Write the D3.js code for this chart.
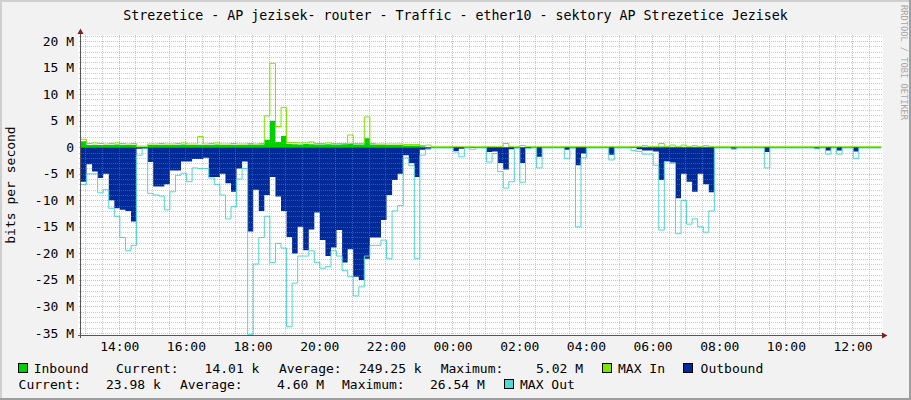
<!DOCTYPE html>
<html><head><meta charset="utf-8">
<script src="https://cdn.jsdelivr.net/npm/d3@7/dist/d3.min.js"></script>
<style>
body{margin:0;background:#f2f2f2;}
svg{display:block;}
text{font-family:"DejaVu Sans Mono",monospace;white-space:pre;}
</style>
</head><body>
<svg id="c" width="911" height="400"></svg>
<script>
// ---------- DATA ----------
const titleText = "Strezetice - AP jezisek- router - Traffic - ether10 - sektory AP Strezetice Jezisek";
const yAxisTitle = "bits per second";
const watermark = "RRDTOOL / TOBI OETIKER";
const startTime = new Date(2024, 0, 1, 12, 52);   // left edge of the graph
const stepMinutes = 10;                            // sample resolution
// values in Mbit/s, one per 10-minute sample
const inbound = [
 1.1,0.4,0.45,0.4,0.4,0.45,0.5,0.45,0.4,0.45,
 0.1,0.1,0.4,0.4,0.45,0.4,0.4,0.45,0.5,0.4,
 0.4,0.45,0.4,0.45,0.5,0.4,0.4,0.45,0.4,0.4,
 0.5,0.45,0.5,1.4,5.0,1.0,2.1,0.6,0.55,0.5,
 0.6,0.55,0.5,0.5,0.55,0.5,0.5,0.55,0.7,0.5,
 0.5,1.7,0.5,0.45,0.45,0.4,0.4,0.4,0.3,0.3,
 0.3,0.2,0.05,0.03,0.03,0.03,0.03,0.03,0.03,0.03,
 0.03,0.03,0.03,0.03,0.03,0.03,0.05,0.03,0.03,0.03,
 0.03,0.03,0.03,0.03,0.03,0.03,0.03,0.03,0.03,0.03,
 0.03,0.03,0.03,0.03,0.03,0.03,0.03,0.03,0.03,0.03,
 0.1,0.1,0.1,0.1,0.15,0.1,0.1,0.1,0.1,0.1,
 0.1,0.1,0.1,0.1,0.03,0.03,0.03,0.03,0.03,0.03,
 0.03,0.03,0.03,0.03,0.03,0.03,0.03,0.03,0.03,0.03,
 0.03,0.03,0.03,0.03,0.03,0.03,0.03,0.03,0.03,0.03,
 0.03,0.03,0.03,0.03
];
const maxIn = [
 1.5,0.7,0.8,0.7,0.6,0.7,0.8,0.7,0.6,0.7,
 0.2,0.2,0.6,0.6,0.7,0.6,0.6,0.7,0.8,0.6,
 0.6,2.0,0.6,0.7,0.8,0.6,0.6,0.7,0.6,0.6,
 0.7,0.6,0.7,5.9,15.8,3.9,7.5,0.9,0.9,0.8,
 0.8,1.0,0.7,0.7,0.8,0.7,0.7,0.7,2.3,0.7,
 0.7,5.7,0.7,0.6,0.6,0.6,0.6,0.6,0.5,0.5,
 0.5,0.3,0.4,0.1,0.1,0.1,0.1,0.1,0.1,0.1,
 0.1,0.1,0.1,0.1,0.1,0.1,0.7,0.1,0.1,0.3,
 0.1,0.1,0.1,0.1,0.1,0.1,0.1,0.1,0.1,0.1,
 0.1,0.1,0.1,0.1,0.1,0.1,0.1,0.1,0.1,0.1,
 0.1,0.3,0.1,0.1,0.7,0.1,0.4,0.1,0.4,0.1,
 0.3,0.1,0.3,0.1,0.1,0.1,0.1,0.1,0.1,0.1,
 0.1,0.1,0.1,0.1,0.1,0.1,0.1,0.1,0.1,0.1,
 0.1,0.1,0.1,0.1,0.1,0.1,0.1,0.1,0.1,0.1,
 0.1,0.1,0.1,0.1
];
const outbound = [
 6.5,3.2,4.6,5.8,5.0,10,11.5,11.8,12,14,
 0.3,0.3,2.8,7.4,7.4,7.0,4.4,4.4,2.7,2.7,
 2.2,2.2,2.0,5.6,5.6,5.0,6.8,8.4,4.0,2.7,
 15.9,8,12,9,5.6,9.3,12,16.9,20,15,
 19.4,15.5,12.3,17.5,20.5,18.9,15.6,21.7,19.2,24.4,
 25,21,17,17,13.7,9,6.2,5.0,1.5,3.0,
 5.6,0.5,0.3,0.1,0.1,0.1,0.1,0.7,0.3,0.1,
 0.1,0.1,0.1,0.9,0.8,3.0,4.2,0.4,0.1,3.0,
 0.2,0.1,1.8,0.1,0.1,0.1,0.1,0.5,0.1,3.4,
 1.2,0.1,0.1,0.1,0.1,1.4,0.1,0.1,0.1,0.1,
 0.4,0.6,0.6,0.8,6.2,2.7,2.9,9.6,5,6.5,
 8.4,5,7,8.5,0.1,0.1,0.1,0.3,0.1,0.1,
 0.1,0.1,0.1,0.9,0.1,0.1,0.1,0.1,0.1,0.1,
 0.1,0.1,0.3,0.1,0.6,0.1,0.6,0.1,0.1,0.8,
 0.1,0.1,0.1,0.1
];
const maxOut = [
 7,5,5,8.6,8,11.5,13,17,19.5,18.5,
 1.5,0.3,8.7,9,9.2,11.8,8.4,5.3,4.9,6.5,
 3.9,4,4,5.8,7,9,13.5,11.2,6,4,
 35.3,22,17,13,21.7,18.1,19,33.8,25.6,20.5,
 20.5,19.5,21.7,22.8,22.5,19.5,20.5,23.2,24.4,28,
 26.3,20.5,18.5,18.5,17.5,21,12,11,2,3.5,
 21,1.5,0.4,0.15,0.15,0.15,0.15,0.9,1.8,0.15,
 0.4,0.15,0.15,2.8,1.2,4.6,7.7,6.5,0.2,6.6,
 0.3,0.15,3.9,0.15,0.15,0.15,0.15,2.1,0.2,15,
 2,0.15,0.15,0.15,0.15,2.4,0.15,0.15,0.15,0.6,
 0.8,1.3,1.3,3.4,15.6,2.7,3.0,16.3,10,14.5,
 13.5,15,16,12,0.15,0.15,0.15,0.4,0.15,0.15,
 0.15,0.15,0.15,3.9,0.15,0.15,0.15,0.15,0.15,0.15,
 0.15,0.15,0.3,0.15,1.3,0.15,1.3,0.15,0.15,2.1,
 0.15,0.15,0.15,0.15
];
const yTickValues = [20,15,10,5,0,-5,-10,-15,-20,-25,-30,-35];
const yTickLabels = ["20 M","15 M","10 M","5 M","0","-5 M","-10 M","-15 M","-20 M","-25 M","-30 M","-35 M"];
const legendLine1 = [
  {box:"inbound"}, {t:"Inbound"}, {t:"Current:"}, {t:"14.01 k"}, {t:"Average:"}, {t:"249.25 k"},
  {t:"Maximum:"}, {t:"5.02 M"}, {box:"maxIn"}, {t:"MAX In"}, {box:"outbound"}, {t:"Outbound"}
];
const legendLine2 = [
  {t:"Current:"}, {t:"23.98 k"}, {t:"Average:"}, {t:"4.60 M"}, {t:"Maximum:"}, {t:"26.54 M"},
  {box:"maxOut"}, {t:"MAX Out"}
];

// ---------- STYLE / LAYOUT ----------
const colors = {inbound:"#00CF00", maxIn:"#7EE600", outbound:"#002A97", maxOut:"#55D6D3"};
const W = 911, H = 400;
const X0 = 81, X1 = 881, YTOP = 35, YBOT = 335;
const legendX1 = [18, 33.7, 116, 204.6, 279, 359, 440.7, 536, 601.7, 618, 683, 700.6];
const legendX2 = [18.6, 106, 180, 277, 342, 430, 503.5, 520];

const svg = d3.select("#c");
const endTime = new Date(startTime.getTime() + 24*3600*1000);
const x = d3.scaleTime().domain([startTime, endTime]).range([X0, X1]);
const M = 1e6;
const y = d3.scaleLinear().domain([-35.37*M, 21.13*M]).range([YBOT, YTOP]);

const n = outbound.length;
const times = d3.range(n + 1).map(i => new Date(startTime.getTime() + i*stepMinutes*60000));
function series(arr, sign) {
  const pts = arr.map((v, i) => ({t: times[i], v: sign*v*M}));
  pts.push({t: times[n], v: sign*arr[n-1]*M});
  return pts;
}

// background & frame
svg.append("rect").attr("width", W).attr("height", H).attr("fill", "#F2F2F2");
svg.append("rect").attr("x",0).attr("y",0).attr("width",W).attr("height",2).attr("fill","#CFCFCF");
svg.append("rect").attr("x",0).attr("y",0).attr("width",2).attr("height",H).attr("fill","#CFCFCF");
svg.append("rect").attr("x",W-2).attr("y",0).attr("width",2).attr("height",H).attr("fill","#9E9E9E");
svg.append("rect").attr("x",0).attr("y",H-2).attr("width",W).attr("height",2).attr("fill","#9E9E9E");

// canvas
svg.append("rect").attr("x", 78).attr("y", YTOP).attr("width", 883-78).attr("height", YBOT-YTOP+1).attr("fill", "#fff");

const plot = svg.append("g");
const area = d3.area().curve(d3.curveStepAfter).x(d => x(d.t)).y0(y(0)).y1(d => y(d.v));
const line = d3.line().curve(d3.curveStepAfter).x(d => x(d.t)).y(d => y(d.v));

plot.append("path").datum(series(inbound, 1)).attr("d", area).attr("fill", colors.inbound);
plot.append("path").datum(series(maxIn, 1)).attr("d", line).attr("fill", "none")
  .attr("stroke", colors.maxIn).attr("stroke-width", 1);
plot.append("path").datum(series(outbound, -1)).attr("d", area).attr("fill", colors.outbound);
plot.append("path").datum(series(maxOut, -1)).attr("d", line).attr("fill", "none")
  .attr("stroke", colors.maxOut).attr("stroke-width", 1);

// grid (drawn over data, like rrdtool)
const grid = svg.append("g").attr("shape-rendering", "crispEdges");
const minorY = d3.range(-35, 22, 1).filter(v => v % 5 !== 0);
grid.selectAll(".hmin").data(minorY).join("line")
  .attr("x1", 79).attr("x2", 883)
  .attr("y1", v => Math.round(y(v*M)) + 0.5).attr("y2", v => Math.round(y(v*M)) + 0.5)
  .attr("stroke", "rgba(143,143,143,0.45)").attr("stroke-dasharray", "1,1");
const minorX = d3.timeMinute.every(30).range(startTime, endTime).filter(t => !(t.getMinutes() === 0 && t.getHours() % 2 === 0));
grid.selectAll(".vmin").data(minorX).join("line")
  .attr("x1", t => Math.round(x(t)) + 0.5).attr("x2", t => Math.round(x(t)) + 0.5)
  .attr("y1", YTOP).attr("y2", YBOT)
  .attr("stroke", "rgba(143,143,143,0.45)").attr("stroke-dasharray", "1,1");
grid.selectAll(".hmaj").data(yTickValues).join("line")
  .attr("x1", 79).attr("x2", 883)
  .attr("y1", v => Math.round(y(v*M)) + 0.5).attr("y2", v => Math.round(y(v*M)) + 0.5)
  .attr("stroke", "rgba(222,79,79,0.45)").attr("stroke-dasharray", "1,1");
const majorX = d3.timeHour.every(2).range(startTime, endTime);
grid.selectAll(".vmaj").data(majorX).join("line")
  .attr("x1", t => Math.round(x(t)) + 0.5).attr("x2", t => Math.round(x(t)) + 0.5)
  .attr("y1", YTOP).attr("y2", YBOT)
  .attr("stroke", "rgba(222,79,79,0.45)").attr("stroke-dasharray", "1,1");

// axes
const ax = svg.append("g").attr("shape-rendering", "crispEdges");
ax.append("line").attr("x1", 78).attr("x2", 884).attr("y1", YBOT + 0.5).attr("y2", YBOT + 0.5).attr("stroke", "#555");
ax.append("line").attr("x1", X0 - 0.5).attr("x2", X0 - 0.5).attr("y1", YBOT + 3).attr("y2", 32).attr("stroke", "#555");
svg.append("path").attr("d", `M${X0-3.5},34 L${X0+2.5},34 L${X0-0.5},28.5 Z`).attr("fill", "#7F1F1F");
svg.append("path").attr("d", `M882,${YBOT-2.5} L882,${YBOT+3.5} L887.5,${YBOT+0.5} Z`).attr("fill", "#7F1F1F");

// tick labels
const fmt = d3.timeFormat("%H:%M");
svg.selectAll(".xl").data(majorX).join("text")
  .attr("x", t => x(t) + 1).attr("y", 351).attr("text-anchor", "middle")
  .attr("font-size", 13).attr("fill", "#000").text(t => fmt(t));
svg.selectAll(".yl").data(yTickValues).join("text")
  .attr("x", 74).attr("y", v => y(v*M) + 4.5).attr("text-anchor", "end")
  .attr("font-size", 13).attr("fill", "#000").text((v, i) => yTickLabels[i]);

// titles
svg.append("text").attr("x", 455.5).attr("y", 19.5).attr("text-anchor", "middle")
  .attr("font-size", 13.3).attr("fill", "#000").text(titleText);
svg.append("text").attr("transform", "translate(15,185) rotate(-90)").attr("text-anchor", "middle")
  .attr("font-size", 13).attr("fill", "#000").text(yAxisTitle);
svg.append("text").attr("transform", "translate(900.5,5) rotate(90)").attr("text-anchor", "start")
  .attr("font-size", 8.7).attr("fill", "#A8A8A8").text(watermark);

// legend
function drawLegend(items, xs, baseline) {
  items.forEach((it, i) => {
    if (it.box) {
      svg.append("rect").attr("x", xs[i] + 0.5).attr("y", baseline - 9.5).attr("width", 9).attr("height", 9)
        .attr("fill", colors[it.box]).attr("stroke", "#000").attr("stroke-width", 1)
        .attr("shape-rendering", "crispEdges");
    } else {
      svg.append("text").attr("x", xs[i]).attr("y", baseline).attr("font-size", 13).attr("fill", "#000").text(it.t);
    }
  });
}
drawLegend(legendLine1, legendX1, 373);
drawLegend(legendLine2, legendX2, 389);
</script>
</body></html>
